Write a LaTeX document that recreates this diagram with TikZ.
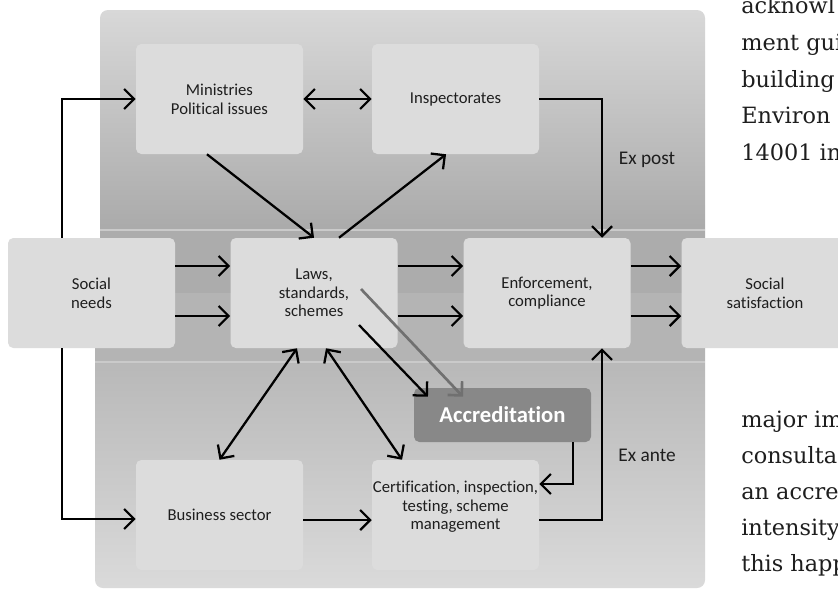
\documentclass[tikz,border=0pt]{standalone}
\usepackage{fontspec}
\setmainfont{Carlito}[Ligatures=NoCommon]
\newfontfamily\bodyserif{DejaVu Serif}
\usetikzlibrary{arrows.meta}
\definecolor{boxc}{HTML}{DCDCDC}
\definecolor{txtc}{HTML}{1E1E1E}
\definecolor{accc}{HTML}{888888}
\definecolor{grayarr}{HTML}{707070}
\definecolor{sepc}{HTML}{CACACA}
\begin{document}
\begin{tikzpicture}[x=0.75pt,y=0.75pt,
  box/.style={fill=boxc, rounded corners=4pt, minimum width=125.25pt, minimum height=82.5pt,
    inner sep=0pt, align=center, text=txtc, font=\fontsize{12.5}{14}\selectfont},
  lbl/.style={text=txtc, inner sep=0pt, align=center, font=\fontsize{12.5}{14}\selectfont},
  side/.style={text=txtc, inner sep=0pt, font=\fontsize{14.5}{16}\selectfont},
  body/.style={anchor=base west, inner sep=0pt, text=txtc, font=\bodyserif\fontsize{16.8}{20}\selectfont},
  barb/.tip={Straight Barb[length=7.5pt,width=15pt]},
  arr/.style={line width=1.7pt, -barb},
  darr/.style={line width=1.7pt, barb-barb},
  garr/.style={line width=2pt, draw=grayarr, -{Straight Barb[length=7.5pt,width=15pt]}}]
\useasboundingbox (0,0) rectangle (838,-590);
\fill[white] (0,0) rectangle (838,-590);
% background panels
\shade[top color={rgb,255:red,216;green,216;blue,216}, bottom color={rgb,255:red,157;green,157;blue,157}, rounded corners=6pt]
  (100,-10) rectangle (705,-293);
\shade[top color={rgb,255:red,174;green,174;blue,174}, bottom color={rgb,255:red,218;green,218;blue,218}, rounded corners=6pt]
  (95,-293) rectangle (705,-588);
\fill[color={rgb,255:red,172;green,172;blue,172}] (100,-230) rectangle (705,-293);
\fill[color={rgb,255:red,180;green,180;blue,180}] (95,-293) rectangle (705,-362);
\draw[sepc, line width=0.8pt] (100,-230) -- (705,-230);
\draw[sepc, line width=0.8pt] (95,-362) -- (705,-362);
% nodes
\node[box] (min) at (219.5,-99) {Ministries\\Political issues};
\node[box] (insp) at (455.5,-99) {Inspectorates};
\node[box] (sn) at (91.5,-293) {Social\\needs};
\node[box] (laws) at (314,-293) {Laws,\\standards,\\schemes};
\node[box] (enf) at (547,-293) {Enforcement,\\compliance};
\node[box] (sat) at (765,-293) {Social\\satisfaction};
\node[box] (bus) at (219.5,-515) {Business sector};
\node[box, label={[lbl,yshift=6pt]center:Certification, inspection,\\testing, scheme\\management}] (cert) at (455.5,-515) {};
\node[fill=accc, rounded corners=4pt, minimum width=132.75pt, minimum height=40.5pt, inner sep=0pt,
  text=white, font=\bfseries\fontsize{17}{20}\selectfont] (accr) at (502.5,-415) {Accreditation};
\node[side] (expost) at (647,-160) {Ex post};
\node[side] (exante) at (647,-455) {Ex ante};
\coordinate (lx) at (62,0);
\coordinate (vx) at (602,0);
% connectors
\draw[arr] (sn.north -| lx) |- (min.west);
\draw[arr] (sn.south -| lx) |- ([yshift=-3pt]bus.west);
\draw[darr] (min.east) -- (insp.west);
\draw[arr] ([xshift=-9.4pt]min.south) -- (laws.north);
\draw[arr] ([xshift=18.75pt]laws.north) -- ([xshift=-7.1pt]insp.south);
\draw[arr] (insp.east) -| (enf.north -| vx);
\foreach \d in {20.25pt,-17.25pt}{
  \draw[arr] ([yshift=\d]sn.east) -- ([yshift=\d]laws.west);
  \draw[arr] ([yshift=\d]laws.east) -- ([yshift=\d]enf.west);
  \draw[arr] ([yshift=\d]enf.east) -- ([yshift=\d]sat.west);
}
\draw[darr] (bus.north) -- ([xshift=-12.75pt]laws.south);
\draw[darr] ([xshift=9pt]laws.south) -- ([xshift=-40.1pt]cert.north);
\draw[arr] ([xshift=33.75pt,yshift=-24pt]laws.center) -- ([xshift=-55.9pt,yshift=-6.75pt]accr.north);
\draw[garr] ([xshift=35.25pt,yshift=3pt]laws.center) -- ([xshift=-29.6pt,yshift=-6.75pt]accr.north);
\draw[arr] ([xshift=52.9pt]accr.south) |- ([yshift=23.25pt]cert.east);
\draw[arr] ([yshift=-3.75pt]bus.east) -- ([yshift=-3.75pt]cert.west);
\draw[arr] ([yshift=-3.75pt]cert.east) -| (enf.south -| vx);
% page text at right
\node[body] (t1) at (741,-13) {acknowl};
\node[body] (t2) at (741,-50) {ment gui};
\node[body] (t3) at (741,-87) {building};
\node[body] (t4) at (741,-123.5) {Environ};
\node[body] (t5) at (741,-160) {14001 in};
\node[body] (b1) at (741,-427) {major im};
\node[body] (b2) at (741,-463) {consulta};
\node[body] (b3) at (741,-499) {an accre};
\node[body] (b4) at (741,-535) {intensity};
\node[body] (b5) at (741,-571) {this happ};
\end{tikzpicture}
\end{document}
